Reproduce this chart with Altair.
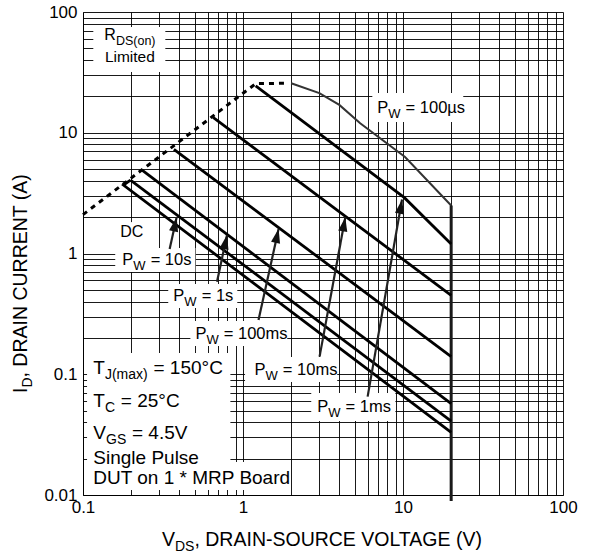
import math
import altair as alt
import pandas as pd

# ---------------- curve data: V_DS (V) vs I_D (A) ----------------
rds_v = [0.1, 1.2, 1.85]            # R_DS(on) limit (dashed)
rds_i = [2.1, 25.5, 25.7]

us100_v = [2.0, 3.0, 4.0, 5.4, 10.3, 20.0]
us100_i = [25.7, 21.3, 17.0, 12.0, 6.3, 2.5]

ms1_v = [1.2, 10.2, 20.0]
ms1_i = [24.5, 2.9, 1.2]

ms10_v = [0.65, 20.0]
ms10_i = [13.4, 0.45]

ms100_v = [0.37, 20.0]
ms100_i = [7.3, 0.14]

s1_v = [0.234, 20.0]
s1_i = [4.9, 0.057]

s10_v = [0.198, 20.0]
s10_i = [4.06, 0.041]

dc_v = [0.198, 0.179, 20.0]
dc_i = [4.06, 3.69, 0.033]

vds_limit_v = [20.0, 20.0]
vds_limit_i = [2.5, 0.0089]

x_ticks = [0.1, 1, 10, 100]
y_ticks = [0.01, 0.1, 1, 10, 100]

# ---------------- layout constants ----------------
PLOT_W, PLOT_H = 480, 483
X_DEC = PLOT_W / 3.0      # pixels per decade of V_DS
Y_DEC = PLOT_H / 4.0      # pixels per decade of I_D
FONT = "Liberation Sans"

XS = alt.Scale(type="log", domain=[0.1, 100], nice=False)
YS = alt.Scale(type="log", domain=[0.01, 100], nice=False)

# Arial / Liberation Sans advance widths (per 1000 em)
AW = {" ": 278, "P": 667, "W": 944, "=": 584, "s": 500, "m": 833, "µ": 576,
      "T": 611, "J": 500, "(": 333, ")": 333, "a": 556, "x": 500, "°": 400,
      "C": 722, "G": 778, "S": 667, "V": 667, ".": 278, "R": 722, "D": 722,
      "o": 556, "n": 556, "L": 556, "i": 222, "t": 278, "e": 556, "d": 556,
      "u": 556, "l": 222, "g": 556, "M": 833, "U": 722, "*": 389, "B": 667,
      "r": 333, "A": 667, "N": 722, "I": 278, "E": 667, "O": 778, "-": 333,
      ",": 278}
for ch in "0123456789":
    AW[ch] = 556


def text_width(s, size):
    return sum(AW.get(c, 556) for c in s) * size / 1000.0


def split_runs(txt, size):
    """Leading spaces collapse in SVG text, so turn them into an offset."""
    stripped = txt.lstrip(" ")
    lead = text_width(txt[: len(txt) - len(stripped)], size)
    return lead, stripped


# ---------------- in-plot labels (anchor in data units) ----------------
# each: (V, I, main size, sub size, [(text, is_sub), ...])
labels = [
    (0.136, 58.6, 16, 12.5, [("R", False), ("DS(on)", True)]),
    (0.137, 38.8, 15.5, 12, [("Limited", False)]),
    (0.171, 1.37, 16, 12, [("DC", False)]),
    (0.176, 0.803, 16.5, 13, [("P", False), ("W", True), (" = 10s", False)]),
    (0.367, 0.407, 16.5, 13, [("P", False), ("W", True), (" = 1s", False)]),
    (0.504, 0.195, 16.5, 13, [("P", False), ("W", True), (" = 100ms", False)]),
    (1.18, 0.0986, 16.5, 13, [("P", False), ("W", True), (" = 10ms", False)]),
    (2.91, 0.0484, 16.5, 13, [("P", False), ("W", True), (" = 1ms", False)]),
    (6.9, 14.5, 16.5, 13, [("P", False), ("W", True), (" = 100µs", False)]),
    (0.116, 0.100, 19, 14, [("T", False), ("J(max)", True), (" = 150°C", False)]),
    (0.116, 0.0539, 19, 14, [("T", False), ("C", True), (" = 25°C", False)]),
    (0.116, 0.0290, 19, 14, [("V", False), ("GS", True), (" = 4.5V", False)]),
    (0.116, 0.0180, 19, 14, [("Single Pulse", False)]),
    (0.116, 0.0124, 19, 14, [("DUT on 1 * MRP Board", False)]),
]

seg_rows = []
for v0, i0, fs, fsub, parts in labels:
    off = 0.0
    for txt, sub in parts:
        size = fsub if sub else fs
        drop = 5.0 if sub else 0.0
        lead, body = split_runs(txt, size)
        off += lead
        seg_rows.append({
            "v": v0 * 10 ** (off / X_DEC),
            "i": i0 * 10 ** (-drop / Y_DEC),
            "t": body,
            "fs": size,
        })
        off += text_width(body, size) + (0.5 if sub else 0.0)
seg_df = pd.DataFrame(seg_rows)

# white boxes behind labels (data units)
boxes = pd.DataFrame([
    {"v": 0.116, "v2": 0.327, "i": 75.1, "i2": 31.8},
    {"v": 0.164, "v2": 0.245, "i": 1.82, "i2": 1.11},
    {"v": 0.159, "v2": 0.504, "i": 1.11, "i2": 0.703},
    {"v": 0.341, "v2": 0.921, "i": 0.559, "i2": 0.354},
    {"v": 0.469, "v2": 1.89, "i": 0.276, "i2": 0.171},
    {"v": 1.03, "v2": 3.88, "i": 0.139, "i2": 0.0863},
    {"v": 2.67, "v2": 8.96, "i": 0.070, "i2": 0.041},
    {"v": 6.43, "v2": 23.8, "i": 21.3, "i2": 12.3},
    {"v": 0.106, "v2": 0.834, "i": 0.150, "i2": 0.011},
    {"v": 0.106, "v2": 1.98, "i": 0.0188, "i2": 0.011},
])

# arrows: tail -> tip (data units)
arrows = pd.DataFrame([
    {"v": 0.348, "i": 1.09, "v2": 0.385, "i2": 2.0},
    {"v": 0.688, "i": 0.584, "v2": 0.794, "i2": 1.42},
    {"v": 1.25, "i": 0.281, "v2": 1.67, "i2": 1.6},
    {"v": 3.01, "i": 0.140, "v2": 4.36, "i2": 2.0},
    {"v": 6.01, "i": 0.0652, "v2": 9.86, "i2": 2.8},
])


def head_angle(r):
    dx = X_DEC * (math.log10(r["v2"]) - math.log10(r["v"]))
    dy = -Y_DEC * (math.log10(r["i2"]) - math.log10(r["i"]))
    return math.degrees(math.atan2(dx, -dy)) % 360


arrows["ang"] = arrows.apply(head_angle, axis=1)

# solid pulse-width curves
curves = []
for name, vs, is_ in [("1ms", ms1_v, ms1_i), ("10ms", ms10_v, ms10_i),
                      ("100ms", ms100_v, ms100_i), ("1s", s1_v, s1_i),
                      ("10s", s10_v, s10_i), ("DC", dc_v, dc_i)]:
    for k, (a, b) in enumerate(zip(vs, is_)):
        curves.append({"series": name, "v": a, "i": b, "k": k})
curves_df = pd.DataFrame(curves)

rds_df = pd.DataFrame({"v": rds_v, "i": rds_i, "k": range(len(rds_v))})
us_df = pd.DataFrame({"v": us100_v, "i": us100_i, "k": range(len(us100_v))})
lim_df = pd.DataFrame({"v": vds_limit_v, "i": vds_limit_i, "k": [0, 1]})

# grid values: 1..9 in every decade
x_grid = [m * 10 ** e for e in (-1, 0, 1) for m in range(1, 10)] + [100]
y_grid = [m * 10 ** e for e in (-2, -1, 0, 1) for m in range(1, 10)] + [100]
lab_expr = ("abs(log(datum.value)/log(10) - round(log(datum.value)/log(10))) < 1e-6"
            " ? format(datum.value, '~g') : ''")

x_axis = alt.Axis(values=x_grid, labelExpr=lab_expr, grid=True, gridColor="#000",
                  gridWidth=0.9, ticks=False, domainColor="#000", domainWidth=1,
                  labelFont=FONT, labelFontSize=17, labelColor="#000",
                  labelPadding=4, labelFlush=False, labelOverlap=False, title=None)
y_axis = alt.Axis(values=y_grid, labelExpr=lab_expr, grid=True, gridColor="#000",
                  gridWidth=0.9, ticks=False, domainColor="#000", domainWidth=1,
                  labelFont=FONT, labelFontSize=17, labelColor="#000",
                  labelPadding=6, labelFlush=False, labelOverlap=False, title=None)

box_layer = alt.Chart(boxes).mark_rect(color="white", opacity=1).encode(
    x=alt.X("v:Q", scale=XS, axis=x_axis),
    x2="v2:Q",
    y=alt.Y("i:Q", scale=YS, axis=y_axis),
    y2="i2:Q",
)

rds_layer = alt.Chart(rds_df).mark_line(
    color="#000", strokeWidth=3, strokeDash=[5, 5], strokeCap="butt"
).encode(x=alt.X("v:Q", scale=XS, axis=None), y=alt.Y("i:Q", scale=YS, axis=None),
         order="k:Q")

us_layer = alt.Chart(us_df).mark_line(color="#333", strokeWidth=2).encode(
    x=alt.X("v:Q", scale=XS, axis=None), y=alt.Y("i:Q", scale=YS, axis=None),
    order="k:Q")

lim_layer = alt.Chart(lim_df).mark_line(color="#1a1a1a", strokeWidth=3).encode(
    x=alt.X("v:Q", scale=XS, axis=None), y=alt.Y("i:Q", scale=YS, axis=None),
    order="k:Q")

curve_layer = alt.Chart(curves_df).mark_line(
    color="#000", strokeWidth=2.8, strokeJoin="miter"
).encode(x=alt.X("v:Q", scale=XS, axis=None), y=alt.Y("i:Q", scale=YS, axis=None),
         detail="series:N", order="k:Q")

shaft_layer = alt.Chart(arrows).mark_rule(color="#222", strokeWidth=2.2).encode(
    x=alt.X("v:Q", scale=XS, axis=None), y=alt.Y("i:Q", scale=YS, axis=None),
    x2="v2:Q", y2="i2:Q")

head_layer = alt.Chart(arrows).mark_point(
    shape="M0,0L0.45,1.4L-0.45,1.4Z", filled=True, color="#111", opacity=1,
    size=420, strokeWidth=0
).encode(x=alt.X("v2:Q", scale=XS, axis=None), y=alt.Y("i2:Q", scale=YS, axis=None),
         angle=alt.Angle("ang:Q", scale=None))

text_layer = alt.Chart(seg_df).mark_text(
    align="left", baseline="alphabetic", font=FONT, color="#000"
).encode(x=alt.X("v:Q", scale=XS, axis=None), y=alt.Y("i:Q", scale=YS, axis=None),
         text="t:N", size=alt.Size("fs:Q", scale=None))

# axis titles with subscripts, placed relative to the plot area
title_rows = []
xt_x, xt_y = 79.0, 534.0
for txt, sub in [("V", False), ("DS", True), (", DRAIN-SOURCE VOLTAGE (V)", False)]:
    fs = 14 if sub else 19.5
    title_rows.append({"px": xt_x, "py": xt_y + (5 if sub else 0), "t": txt, "fs": fs, "a": 0})
    xt_x += text_width(txt, fs)
yt_x, yt_y = -56.0, 381.0
for txt, sub in [("I", False), ("D", True), (", DRAIN CURRENT (A)", False)]:
    fs = 14 if sub else 19.5
    title_rows.append({"px": yt_x + (5 if sub else 0), "py": yt_y, "t": txt, "fs": fs, "a": 270})
    yt_y -= text_width(txt, fs)
titles_df = pd.DataFrame(title_rows)

xtitle_layer = alt.Chart(titles_df[titles_df.a == 0]).mark_text(
    align="left", baseline="alphabetic", font=FONT, color="#000"
).encode(x=alt.X("px:Q", scale=None, axis=None), y=alt.Y("py:Q", scale=None, axis=None),
         text="t:N", size=alt.Size("fs:Q", scale=None))

ytitle_layer = alt.Chart(titles_df[titles_df.a == 270]).mark_text(
    align="left", baseline="alphabetic", font=FONT, color="#000", angle=270
).encode(x=alt.X("px:Q", scale=None, axis=None), y=alt.Y("py:Q", scale=None, axis=None),
         text="t:N", size=alt.Size("fs:Q", scale=None))

chart = alt.layer(
    box_layer, rds_layer, us_layer, lim_layer, curve_layer,
    shaft_layer, head_layer, text_layer, xtitle_layer, ytitle_layer
).resolve_scale(x="independent", y="independent").properties(
    width=PLOT_W, height=PLOT_H,
    autosize=alt.AutoSizeParams(type="none"),
    padding={"left": 83, "top": 12, "right": 27, "bottom": 59},
).configure_view(stroke="#000", strokeWidth=1).configure(background="white")

chart.save("out.html", embed_options={"renderer": "svg", "actions": False})
